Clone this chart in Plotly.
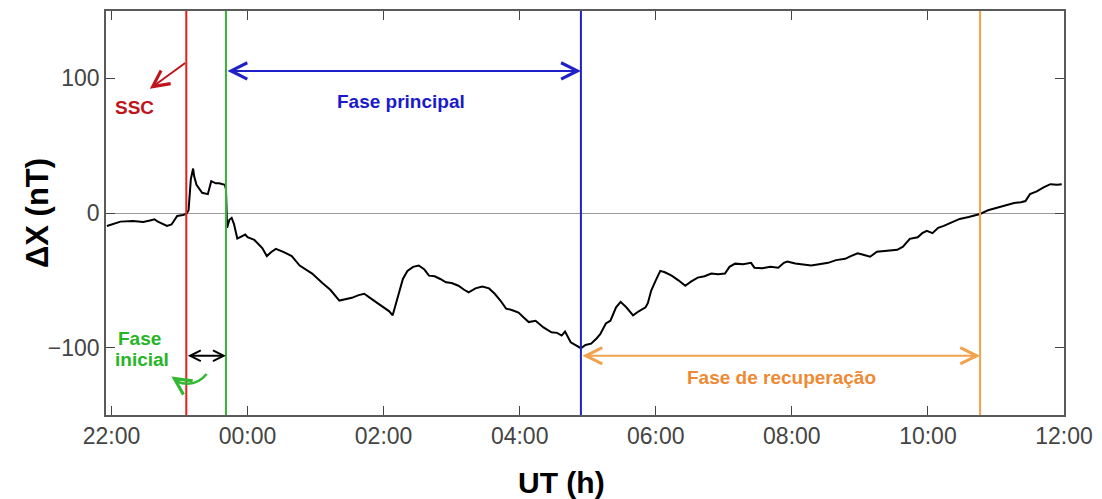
import plotly.graph_objects as go

# Horizontal component variation (ΔX) during the storm, UT hh:mm
ut = ["21:56", "22:08", "22:19", "22:28", "22:34", "22:38", "22:41", "22:49", "22:53", "22:58",
      "23:03", "23:06", "23:08", "23:10", "23:12", "23:13", "23:15", "23:18", "23:20", "23:25",
      "23:28", "23:32", "23:35", "23:40", "23:41", "23:42", "23:44", "23:46", "23:48", "23:51",
      "23:55", "23:58", "00:00", "00:06", "00:13", "00:17", "00:21", "00:25", "00:32", "00:39",
      "00:46", "00:51", "00:57", "01:06", "01:13", "01:21", "01:27", "01:32", "01:38", "01:43",
      "01:48", "01:53", "02:00", "02:05", "02:08", "02:10", "02:14", "02:17", "02:21", "02:26",
      "02:31", "02:36", "02:40", "02:45", "02:50", "02:55", "03:00", "03:06", "03:11", "03:15",
      "03:21", "03:27", "03:33", "03:38", "03:43", "03:48", "03:53", "03:59", "04:04", "04:08",
      "04:14", "04:21", "04:28", "04:33", "04:37", "04:40", "04:45", "04:49", "04:54", "04:58",
      "05:03", "05:08", "05:11", "05:16", "05:20", "05:25", "05:29", "05:34", "05:40", "05:45",
      "05:51", "05:53", "05:56", "06:00", "06:04", "06:08", "06:14", "06:20", "06:26", "06:31",
      "06:37", "06:43", "06:49", "06:55", "07:01", "07:05", "07:10", "07:17", "07:24", "07:27",
      "07:34", "07:41", "07:48", "07:53", "07:56", "08:03", "08:10", "08:17", "08:24", "08:32",
      "08:39", "08:47", "08:52", "08:58", "09:03", "09:09", "09:15", "09:24", "09:33", "09:38",
      "09:44", "09:51", "09:55", "09:59", "10:04", "10:09", "10:14", "10:21", "10:28", "10:36",
      "10:46", "10:53", "11:01", "11:08", "11:16", "11:22", "11:26", "11:30", "11:36", "11:42",
      "11:48", "11:54", "11:58"]
dx = [-9.6, -6.4, -5.9, -6.6, -5.5, -4.7, -6.5, -9.6, -8.5, -2.2,
      -1.5, -0.7, 2.0, 25.0, 33.0, 27.0, 21.0, 17.0, 15.0, 14.0,
      23.6, 22.0, 22.0, 21.0, 17.7, -11.0, -5.0, -3.6, -8.0, -19.0,
      -17.0, -16.0, -18.0, -20.0, -26.0, -32.0, -29.0, -26.6, -29.0, -32.0,
      -39.0, -42.0, -45.0, -52.0, -57.0, -65.0, -64.0, -63.0, -61.0, -60.0,
      -63.0, -66.0, -70.0, -73.0, -76.0, -70.0, -57.6, -49.0, -43.0, -40.0,
      -39.0, -42.0, -46.5, -47.0, -49.0, -51.5, -52.0, -54.0, -57.0, -59.0,
      -56.0, -54.6, -56.0, -60.0, -65.0, -71.0, -72.0, -74.0, -78.0, -81.0,
      -80.0, -85.0, -88.6, -89.0, -91.0, -88.0, -96.0, -98.0, -100.4, -98.0,
      -97.0, -93.0, -90.0, -82.0, -80.0, -70.0, -66.0, -70.0, -76.0, -73.0,
      -70.0, -67.0, -57.6, -50.0, -43.0, -44.0, -46.5, -50.0, -54.0, -51.0,
      -48.0, -47.0, -45.0, -45.5, -45.0, -40.0, -37.6, -38.0, -37.0, -40.6,
      -41.0, -40.0, -40.6, -37.0, -36.0, -37.5, -38.0, -39.0, -38.0, -37.0,
      -35.0, -34.0, -32.0, -30.0, -31.0, -32.5, -28.8, -28.0, -27.3, -25.0,
      -19.2, -18.0, -15.0, -13.3, -15.0, -11.0, -9.6, -7.0, -4.4, -3.0,
      -0.7, 2.0, 3.7, 5.5, 7.4, 8.0, 8.9, 14.0, 16.0, 19.0,
      21.4, 21.0, 21.4]

# Storm phase boundaries (UT)
t_ssc = "23:06"
t_main_start = "23:41"
t_main_end = "04:54"
t_recovery_end = "10:46"

tick_labels = ["22:00", "00:00", "02:00", "04:00", "06:00", "08:00", "10:00", "12:00"]
y_ticks = [-100, 0, 100]

FONT = "Liberation Sans, Arial, sans-serif"
RED, GREEN, BLUE, ORANGE = "#e3201c", "#33b833", "#2020c8", "#f2a24c"
SSC_RED, TXT_GREEN, TXT_BLUE, TXT_ORANGE = "#c0141c", "#26b526", "#1a1ac8", "#ee8a34"


def hours(hhmm):
    """Hours elapsed since 22:00 of the first day."""
    h, m = map(int, hhmm.split(":"))
    mins = h * 60 + m
    mins = mins - 22 * 60 if mins >= 12 * 60 + 1 else mins + 2 * 60
    return mins / 60.0


x = [hours(t) for t in ut]
tick_vals = [hours(t) if t != "12:00" else 14.0 for t in tick_labels]

fig = go.Figure()
fig.add_trace(go.Scatter(x=x, y=dx, mode="lines",
                         line=dict(color="black", width=2), showlegend=False))

# phase boundaries
for t, c in [(t_ssc, RED), (t_main_start, GREEN), (t_main_end, BLUE), (t_recovery_end, ORANGE)]:
    fig.add_shape(type="line", x0=hours(t), x1=hours(t), y0=-150, y1=150,
                  xref="x", yref="y", line=dict(color=c, width=2))

annotations = []


def double_arrow(x0, x1, y, color, head=1.6):
    annotations.append(dict(x=x1, y=y, ax=x0, ay=y, xref="x", yref="y", axref="x", ayref="y",
                            text="", showarrow=True, arrowside="end+start",
                            arrowhead=5, startarrowhead=5, arrowsize=head, startarrowsize=head,
                            arrowwidth=2, arrowcolor=color))


double_arrow(hours(t_main_start), hours(t_main_end), 105.5, BLUE)
double_arrow(hours(t_ssc), hours(t_main_start), -106, "black", head=1.05)
double_arrow(hours(t_main_end), hours(t_recovery_end), -106, ORANGE)

# SSC pointer
annotations.append(dict(x=0.564, y=92.3, ax=1.106, ay=112.2, xref="x", yref="y",
                        axref="x", ayref="y", text="", showarrow=True,
                        arrowhead=5, arrowsize=1.6, arrowwidth=2, arrowcolor=SSC_RED))


def label(txt, xh, yv, color):
    annotations.append(dict(x=xh, y=yv, xref="x", yref="y", text=f"<b>{txt}</b>",
                            showarrow=False, xanchor="center", yanchor="middle",
                            font=dict(family=FONT, size=19, color=color)))


label("SSC", 0.337, 78, SSC_RED)
label("Fase principal", 4.256, 83, TXT_BLUE)
label("Fase de recuperação", 9.846, -122, TXT_ORANGE)
label("Fase", 0.418, -93, TXT_GREEN)
label("inicial", 0.45, -109, TXT_GREEN)

# curved green pointer below "Fase inicial"
fig.add_shape(type="path", xref="x", yref="y",
              path="M 1.399,-119.6 Q 1.223,-130.5 0.95,-125.0",
              line=dict(color=GREEN, width=2.5))
annotations.append(dict(x=0.88, y=-121.5, ax=9, ay=6, xref="x", yref="y",
                        text="", showarrow=True, arrowhead=5, arrowsize=1.3,
                        arrowwidth=2.5, arrowcolor=GREEN))

# axis titles
annotations.append(dict(x=0, y=0.5, xref="paper", yref="paper", xshift=-69,
                        text="<b>ΔX (nT)</b>", textangle=-90, showarrow=False,
                        xanchor="center", yanchor="middle",
                        font=dict(family=FONT, size=31, color="black")))
annotations.append(dict(x=0.4755, y=0, xref="paper", yref="paper", yshift=-67,
                        text="<b>UT (h)</b>", showarrow=False,
                        xanchor="center", yanchor="middle",
                        font=dict(family=FONT, size=30, color="black")))

axis_common = dict(showline=True, linecolor="#5a5a5a", linewidth=1.5, mirror="ticks",
                   ticks="inside", ticklen=9, tickwidth=1.2, tickcolor="#444",
                   showgrid=False, tickfont=dict(family=FONT, size=23, color="#444"))

fig.update_layout(
    width=1102, height=499,
    margin=dict(l=106, r=35, t=9, b=84),
    paper_bgcolor="white", plot_bgcolor="white",
    showlegend=False,
    annotations=annotations,
    xaxis=dict(range=[-0.08, 14], tickvals=tick_vals, ticktext=tick_labels,
               zeroline=False, **axis_common),
    yaxis=dict(range=[-150, 150], tickvals=y_ticks, zeroline=True,
               zerolinecolor="#9a9a9a", zerolinewidth=1, **axis_common),
)

fig.write_html("out.html")
